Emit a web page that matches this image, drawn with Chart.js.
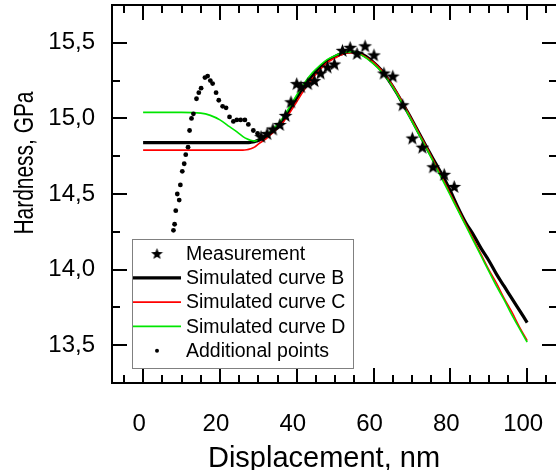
<!DOCTYPE html>
<html>
<head>
<meta charset="utf-8">
<script src="https://cdn.jsdelivr.net/npm/chart.js@4.4.1/dist/chart.umd.min.js"></script>
<style>
  html, body { margin: 0; padding: 0; background: #fff; overflow: hidden; }
</style>
</head>
<body>
<canvas id="myChart" width="556" height="470"></canvas>
<script>
const FONT = '"Liberation Sans", Arial, sans-serif';

// measured hardness (stars)
const measX = [30.7, 32.3, 33.8, 35.6, 37.1, 38.5, 40.0, 41.1, 42.9, 44.6, 46.2, 48.0, 49.8,
               51.9, 53.9, 55.7, 57.8, 60.1, 62.7, 65.0, 67.6, 70.1, 72.7, 75.5, 78.4, 81.0];
const measY = [14.88, 14.90, 14.93, 14.96, 15.02, 15.11, 15.23, 15.21, 15.23, 15.25, 15.30, 15.34, 15.36,
               15.45, 15.47, 15.43, 15.48, 15.42, 15.30, 15.28, 15.09, 14.87, 14.81, 14.68, 14.63, 14.55];

// additional points (small dots)
const addX = [7.9, 8.2, 8.5, 9.4, 8.9, 9.7, 10.2, 10.7, 11.1, 11.7, 12.1, 12.6, 13.1, 13.9, 14.5, 15.1,
              16.1, 16.8, 17.5, 18.1, 19.0, 19.7, 20.7, 21.6, 22.5, 23.5, 24.4, 25.4, 26.5, 27.4, 28.7, 29.8];
const addY = [14.26, 14.30, 14.39, 14.46, 14.50, 14.56, 14.65, 14.70, 14.76, 14.81, 14.92, 15.00, 15.03, 15.13, 15.17, 15.20,
              15.27, 15.28, 15.25, 15.23, 15.17, 15.12, 15.08, 15.07, 15.01, 14.98, 14.99, 14.99, 14.99, 14.96, 14.92, 14.90];

// simulated curves, common displacement grid
const curveX = [0, 5, 10, 15, 17.5, 20, 22.5, 25, 26, 27, 28, 29, 30, 32, 34, 36, 38, 40, 42, 44, 46, 48,
                50, 52, 54, 56, 58, 60, 62, 64, 66, 68, 70, 72, 74, 76, 78, 80, 82, 84, 86, 88, 90, 92, 94, 96, 98, 100];
const curveB = [14.84, 14.84, 14.84, 14.84, 14.84, 14.84, 14.84, 14.84, 14.84, 14.84, 14.842, 14.846, 14.855, 14.88, 14.92, 14.97, 15.05, 15.135, 15.215, 15.28, 15.335, 15.38,
                15.41, 15.43, 15.44, 15.435, 15.41, 15.37, 15.32, 15.25, 15.17, 15.08, 14.99, 14.895, 14.80, 14.71, 14.62, 14.52, 14.41, 14.31, 14.23, 14.14, 14.06, 13.97, 13.89, 13.81, 13.73, 13.65];
const curveC = [14.79, 14.79, 14.79, 14.79, 14.79, 14.79, 14.79, 14.79, 14.79, 14.793, 14.80, 14.81, 14.83, 14.865, 14.91, 14.96, 15.03, 15.11, 15.19, 15.26, 15.32, 15.37,
                15.40, 15.425, 15.435, 15.43, 15.405, 15.37, 15.32, 15.255, 15.175, 15.085, 14.99, 14.895, 14.80, 14.70, 14.60, 14.50, 14.40, 14.30, 14.20, 14.10, 14.00, 13.91, 13.81, 13.72, 13.62, 13.53];
const curveD = [15.04, 15.04, 15.04, 15.035, 15.02, 14.99, 14.945, 14.90, 14.88, 14.865, 14.855, 14.85, 14.855, 14.885, 14.935, 14.99, 15.07, 15.155, 15.235, 15.30, 15.35, 15.39,
                15.415, 15.435, 15.44, 15.43, 15.40, 15.36, 15.31, 15.245, 15.165, 15.075, 14.98, 14.885, 14.79, 14.69, 14.59, 14.49, 14.39, 14.29, 14.19, 14.09, 13.99, 13.89, 13.80, 13.70, 13.61, 13.52];

// axes
const xTicks = [0, 20, 40, 60, 80, 100];
const xTickLabels = ['0', '20', '40', '60', '80', '100'];
const yTicks = [13.5, 14.0, 14.5, 15.0, 15.5];
const yTickLabels = ['13,5', '14,0', '14,5', '15,0', '15,5'];
const xTitle = 'Displacement, nm';
const yTitle = 'Hardness, GPa';

const pts = (xs, ys) => xs.map((x, i) => ({ x: x, y: ys[i] }));

// filled five-pointed star marker
function makeStar(size) {
    const c = document.createElement('canvas');
    c.width = size; c.height = size;
    const g = c.getContext('2d');
    const m = size / 2, ro = size / 2 - 0.3, ri = ro * 0.42;
    g.fillStyle = '#000';
    g.beginPath();
    for (let i = 0; i < 10; i++) {
        const r = i % 2 ? ri : ro;
        const a = -Math.PI / 2 + i * Math.PI / 5;
        g.lineTo(m + r * Math.cos(a), m + r * Math.sin(a) + 0.6);
    }
    g.closePath();
    g.fill();
    return c;
}
const star = makeStar(15);
const legendStar = makeStar(13);

// box frame with inward ticks on all four sides, titles and legend
const framePlugin = {
    id: 'frame',
    afterDatasetsDraw(chart) {
        const ctx = chart.ctx, a = chart.chartArea;
        const xs = chart.scales.x, ys = chart.scales.y;
        const rightX = a.right + 6;
        ctx.save();
        ctx.strokeStyle = '#000';
        ctx.lineWidth = 2;
        ctx.beginPath();
        ctx.moveTo(rightX, a.top); ctx.lineTo(a.left, a.top);
        ctx.lineTo(a.left, a.bottom); ctx.lineTo(rightX, a.bottom);
        ctx.stroke();

        ctx.beginPath();
        for (let v = -5; v <= xs.max; v += 5) {
            const len = xTicks.includes(v) ? 15 : 8;
            const px = Math.round(xs.getPixelForValue(v));
            ctx.moveTo(px, a.bottom); ctx.lineTo(px, a.bottom - len);
            ctx.moveTo(px, a.top); ctx.lineTo(px, a.top + len);
        }
        for (let v = 13.5; v < ys.max - 0.01; v += 0.25) {
            const len = yTicks.some(t => Math.abs(t - v) < 1e-6) ? 15 : 8;
            const py = Math.round(ys.getPixelForValue(v));
            ctx.moveTo(a.left, py); ctx.lineTo(a.left + len, py);
            ctx.moveTo(rightX, py); ctx.lineTo(rightX - len, py);
        }
        ctx.stroke();
        ctx.restore();
    },
    afterDraw(chart) {
        const ctx = chart.ctx;
        const ds = chart.data.datasets;
        ctx.save();

        // axis titles
        ctx.fillStyle = '#000';
        ctx.font = '29px ' + FONT;
        ctx.textAlign = 'center';
        ctx.textBaseline = 'alphabetic';
        ctx.fillText(xTitle, 324, 467);
        ctx.font = '28px ' + FONT;
        const k = 143 / ctx.measureText(yTitle).width;
        ctx.translate(33, 163);
        ctx.rotate(-Math.PI / 2);
        ctx.scale(k, 1);
        ctx.fillText(yTitle, 0, 0);
        ctx.setTransform(1, 0, 0, 1, 0, 0);

        // legend box
        const bx = 132, by = 239, bw = 221, bh = 129;
        ctx.fillStyle = '#fff';
        ctx.fillRect(bx, by, bw, bh);
        ctx.strokeStyle = '#808080';
        ctx.lineWidth = 1;
        ctx.strokeRect(bx + 0.5, by + 0.5, bw, bh);

        const order = [0, 4, 3, 2, 1];
        ctx.font = '19.5px ' + FONT;
        ctx.textAlign = 'left';
        ctx.textBaseline = 'middle';
        order.forEach((idx, i) => {
            const d = ds[idx];
            const cy = 253.5 + i * 24.3;
            if (d.showLine === false) {
                if (d.pointStyle === star) {
                    ctx.drawImage(legendStar, 157 - 6.5, cy - 6.5);
                } else {
                    ctx.fillStyle = '#000';
                    ctx.beginPath(); ctx.arc(157, cy, 2, 0, Math.PI * 2); ctx.fill();
                }
            } else {
                ctx.strokeStyle = d.borderColor;
                ctx.lineWidth = d.borderWidth;
                ctx.beginPath(); ctx.moveTo(133, cy); ctx.lineTo(181, cy); ctx.stroke();
            }
            ctx.fillStyle = '#000';
            ctx.fillText(d.label, 186, cy + 1);
        });
        ctx.restore();
    }
};

const ctx = document.getElementById('myChart').getContext('2d');
const myChart = new Chart(ctx, {
    type: 'scatter',
    data: {
        datasets: [{
            label: 'Measurement',
            data: pts(measX, measY),
            showLine: false,
            pointStyle: star,
            order: 0
        }, {
            label: 'Additional points',
            data: pts(addX, addY),
            showLine: false,
            pointStyle: 'circle',
            pointRadius: 2.4,
            backgroundColor: '#000',
            borderWidth: 0,
            order: 1
        }, {
            label: 'Simulated curve D',
            data: pts(curveX, curveD),
            showLine: true,
            borderColor: '#00e600',
            borderWidth: 1.6,
            pointRadius: 0,
            cubicInterpolationMode: 'monotone',
            order: 2
        }, {
            label: 'Simulated curve C',
            data: pts(curveX, curveC),
            showLine: true,
            borderColor: '#ff0000',
            borderWidth: 1.6,
            pointRadius: 0,
            cubicInterpolationMode: 'monotone',
            order: 3
        }, {
            label: 'Simulated curve B',
            data: pts(curveX, curveB),
            showLine: true,
            borderColor: '#000000',
            borderWidth: 3.2,
            pointRadius: 0,
            cubicInterpolationMode: 'monotone',
            order: 4
        }]
    },
    options: {
        responsive: false,
        animation: false,
        devicePixelRatio: 1,
        layout: { padding: { top: 5, right: 0, left: 0, bottom: 0 } },
        plugins: {
            legend: { display: false },
            tooltip: { enabled: false }
        },
        scales: {
            x: {
                type: 'linear',
                min: -8.1,
                max: 106.2,
                grid: { display: false, drawTicks: false },
                border: { display: false },
                afterBuildTicks: s => { s.ticks = xTicks.map(v => ({ value: v })); },
                afterFit: s => { s.height = 87; s.paddingLeft = 0; s.paddingRight = 0; },
                ticks: {
                    font: { family: FONT, size: 24 },
                    color: '#000',
                    padding: 27,
                    labelOffset: -4,
                    maxRotation: 0,
                    autoSkip: false,
                    callback: (v) => xTickLabels[xTicks.indexOf(v)]
                }
            },
            y: {
                type: 'linear',
                min: 13.25,
                max: 15.75,
                grid: { display: false, drawTicks: false },
                border: { display: false },
                afterBuildTicks: s => { s.ticks = yTicks.map(v => ({ value: v })); },
                afterFit: s => { s.width = 112; s.paddingTop = 0; s.paddingBottom = 0; },
                ticks: {
                    font: { family: FONT, size: 24 },
                    color: '#000',
                    padding: 17,
                    autoSkip: false,
                    callback: (v) => yTickLabels[yTicks.indexOf(v)]
                }
            }
        }
    },
    plugins: [framePlugin]
});
</script>
</body>
</html>
